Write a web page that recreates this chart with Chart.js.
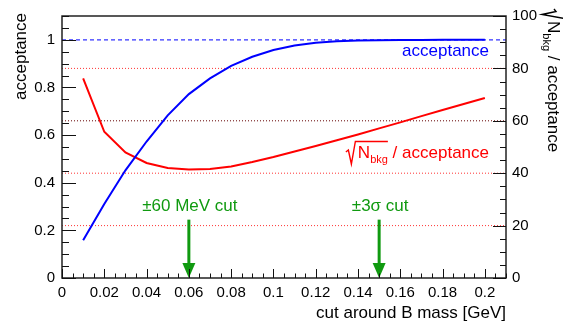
<!DOCTYPE html>
<html>
<head>
<meta charset="utf-8">
<script src="https://cdn.jsdelivr.net/npm/chart.js@4.4.1/dist/chart.umd.min.js"></script>
<style>
html,body{margin:0;padding:0;background:#fff;}
</style>
</head>
<body>
<canvas id="c" width="563" height="325"></canvas>
<script>
// cut half-width around the B mass [GeV]
const cutSizes=[0.01,0.02,0.03,0.04,0.05,0.06,0.07,0.08,0.09,0.10,0.11,0.12,0.13,0.14,0.15,0.16,0.17,0.18,0.19,0.20];
// signal acceptance (left axis)
const acceptance=[0.158,0.311,0.452,0.573,0.683,0.772,0.838,0.891,0.929,0.957,0.976,0.988,0.994,0.997,0.998,0.999,0.999,1.0,1.0,1.0];
// sqrt(N_bkg)/acceptance (right axis)
const sqrtBkgOverAcc=[76.2,55.8,47.9,43.9,42.0,41.4,41.6,42.6,44.3,46.2,48.3,50.4,52.6,54.8,57.1,59.4,61.8,64.1,66.4,68.7];
// reference lines
const accRef=[1];
const bkgGuides=[80,60,40,20];
// the two cut choices marked with arrows
const cutPositions=[0.06,0.15];
const cutLabels=['\u00b160 MeV cut','\u00b13\u03c3 cut'];
const arrowTop=0.245;

const FONT='"Liberation Sans", Arial, Helvetica, sans-serif';
Chart.defaults.font.family=FONT;
Chart.defaults.color='#000';

const fmt=v=>Number(v.toFixed(3)).toString();

const curvePoints=(ys)=>cutSizes.map((x,i)=>({x:x,y:ys[i]}));
const hLine=(v)=>[{x:0,y:v},{x:0.21,y:v}];

let datasets=[
  {data:curvePoints(acceptance),yAxisID:'y',borderColor:'#0000ff',borderWidth:2,pointRadius:0,tension:0},
  {data:curvePoints(sqrtBkgOverAcc),yAxisID:'y2',borderColor:'#ff0000',borderWidth:2,pointRadius:0,tension:0}
];
accRef.forEach(v=>{
  datasets.push({data:hLine(v),yAxisID:'y',borderColor:'#3333ff',borderWidth:1.3,borderDash:[4,3],pointRadius:0});
});
bkgGuides.forEach(v=>{
  datasets.push({data:hLine(v),yAxisID:'y2',borderColor:v===60?'#660000':'#ff3333',borderWidth:1,borderDash:[1,2],pointRadius:0});
});

// sqrt(N_bkg) / acceptance with a drawn radical sign
function drawSqrtLabel(ctx,x,y,color,align){
  ctx.save();
  ctx.fillStyle=color;ctx.strokeStyle=color;ctx.lineWidth=1.4;
  ctx.textAlign='left';ctx.textBaseline='alphabetic';
  const big='17px '+FONT, small='11px '+FONT;
  ctx.font=big;
  const wN=ctx.measureText('N').width;
  const wRest=ctx.measureText(' / acceptance').width;
  ctx.font=small;
  const wSub=ctx.measureText('bkg').width;
  const rad=12;
  const total=rad+wN+wSub+wRest;
  const x0=align==='right'?x-total:x;
  ctx.beginPath();
  ctx.moveTo(x0,y-6);
  ctx.lineTo(x0+2.5,y-8);
  ctx.lineTo(x0+5.5,y+6);
  ctx.lineTo(x0+9.5,y-16.5);
  ctx.lineTo(x0+rad+wN+wSub,y-16.5);
  ctx.stroke();
  ctx.font=big;ctx.fillText('N',x0+rad,y);
  ctx.font=small;ctx.fillText('bkg',x0+rad+wN,y+5);
  ctx.font=big;ctx.fillText(' / acceptance',x0+rad+wN+wSub,y);
  ctx.restore();
}

const rootStyle={
  id:'rootStyle',
  beforeDraw(chart){
    const c=chart.ctx;
    c.save();c.fillStyle='#fff';c.fillRect(0,0,chart.width,chart.height);c.restore();
  },
  afterDatasetsDraw(chart){
    const c=chart.ctx, a=chart.chartArea;
    const sx=chart.scales.x, sy=chart.scales.y, sy2=chart.scales.y2;
    c.save();
    // cut arrows and labels
    const green='#109a10';
    cutPositions.forEach((xv,i)=>{
      const px=sx.getPixelForValue(xv);
      const top=sy.getPixelForValue(arrowTop);
      const tip=sy.getPixelForValue(0);
      c.strokeStyle=green;c.fillStyle=green;c.lineWidth=3;
      c.beginPath();c.moveTo(px,top);c.lineTo(px,tip-14);c.stroke();
      c.beginPath();c.moveTo(px-6.5,tip-15);c.lineTo(px+6.5,tip-15);c.lineTo(px,tip);c.closePath();c.fill();
      c.font='17px '+FONT;c.textAlign='center';c.textBaseline='alphabetic';
      c.fillText(cutLabels[i],px+1,211);
    });
    // curve labels
    c.fillStyle='#0000ff';c.font='17px '+FONT;c.textAlign='right';c.textBaseline='alphabetic';
    c.fillText('acceptance',489,56);
    drawSqrtLabel(c,489,158,'#ff0000','right');

    // frame
    c.strokeStyle='#222';c.lineWidth=1.5;
    c.strokeRect(a.left,a.top,a.right-a.left,a.bottom-a.top);
    // tick marks, drawn inside the frame
    c.lineWidth=1;c.strokeStyle='#111';
    c.beginPath();
    for(let i=0;i<=22;i++){
      const py=Math.round(sy.getPixelForValue(i*0.05))+0.5;
      const len=i%4===0?14:7;
      c.moveTo(a.left,py);c.lineTo(a.left+len,py);
    }
    for(let i=0;i<=20;i++){
      const py=Math.round(sy2.getPixelForValue(i*5))+0.5;
      const len=i%4===0?13:6;
      c.moveTo(a.right,py);c.lineTo(a.right-len,py);
    }
    for(let i=0;i<=42;i++){
      const px=Math.round(sx.getPixelForValue(i*0.005))+0.5;
      const len=i%4===0?9:4.5;
      c.moveTo(px,a.bottom);c.lineTo(px,a.bottom-len);
    }
    c.stroke();

    // axis titles
    c.fillStyle='#000';c.font='17px '+FONT;
    c.textAlign='right';c.textBaseline='alphabetic';
    c.fillText('cut around B mass [GeV]',506,318);
    c.save();
    c.translate(26,13);c.rotate(-Math.PI/2);
    c.textAlign='right';c.fillText('acceptance',0,0);
    c.restore();
    c.save();
    c.translate(548,9);c.rotate(Math.PI/2);
    drawSqrtLabel(c,0,0,'#000','left');
    c.restore();
    c.restore();
  }
};

const tickFont={size:15};
new Chart(document.getElementById('c'),{
  type:'line',
  data:{datasets:datasets},
  options:{
    responsive:false,animation:false,
    layout:{padding:{top:13,left:0,right:0,bottom:0}},
    plugins:{legend:{display:false},tooltip:{enabled:false}},
    scales:{
      x:{type:'linear',min:0,max:0.21,
        grid:{display:false,drawTicks:false},border:{display:false},
        ticks:{stepSize:0.02,includeBounds:false,padding:6,font:tickFont,maxRotation:0,autoSkip:false,callback:fmt},
        afterFit:s=>{s.height=47;}},
      y:{type:'linear',position:'left',min:0,max:1.1,
        grid:{display:false,drawTicks:false},border:{display:false},
        ticks:{stepSize:0.2,includeBounds:false,padding:7,font:tickFont,callback:fmt},
        afterFit:s=>{s.width=62;}},
      y2:{type:'linear',position:'right',min:0,max:100,
        grid:{display:false,drawTicks:false},border:{display:false},
        ticks:{stepSize:20,includeBounds:false,padding:6,font:tickFont,callback:fmt},
        afterFit:s=>{s.width=57;}}
    }
  },
  plugins:[rootStyle]
});
</script>
</body>
</html>
